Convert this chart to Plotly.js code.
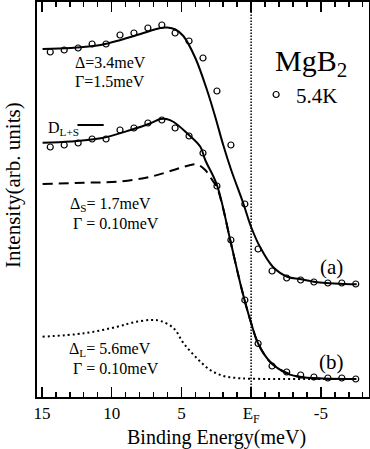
<!DOCTYPE html>
<html>
<head>
<meta charset="utf-8">
<script src="https://cdn.plot.ly/plotly-3.0.1.min.js"></script>
<style>
  html, body { margin: 0; padding: 0; background: #fff; }
  #chart { width: 370px; height: 449px; }
</style>
</head>
<body>
<div id="chart"></div>
<script>
// measured spectra, 5.4K
var energy = [14.4, 13.4, 12.4, 11.4, 10.4, 9.4, 8.4, 7.4, 6.4, 5.45, 4.45, 3.45, 2.45, 1.45, 0.45, -0.5, -1.5, -2.55, -3.55, -4.5, -5.5, -6.5, -7.5];
var dataA = [34.5, 34.7, 34.9, 35.3, 35.3, 36.2, 36.4, 36.9, 37.2, 36.4, 35.6, 33.9, 30.6, 25.2, 19.3, 14.8, 12.6, 11.9, 11.7, 11.5, 11.4, 11.4, 11.3];
var dataB = [25.0, 25.2, 25.4, 25.8, 25.8, 26.7, 26.9, 27.4, 27.7, 26.9, 26.1, 24.4, 21.1, 15.7, 9.7, 5.35, 3.1, 2.5, 2.2, 2.0, 1.9, 1.9, 1.8];

// fit (a): single gap
var fitAx = [14.95, 12.93, 10.79, 9.36, 7.93, 6.5, 6.0, 5.43, 4.86, 4.0, 3.14, 2.57, 2.0, 1.43, 0.57, 0, -0.64, -1.57, -2.64, -3.5, -4.93, -7.57];
var fitAy = [34.8, 34.9, 35.2, 35.7, 36.3, 36.9, 36.95, 36.75, 36.1, 33.9, 30.6, 28.0, 25.2, 22.7, 19.4, 17.0, 15.0, 13.0, 12.0, 11.8, 11.45, 11.27];

// fit (b): D_L+S
var fitBx = [14.95, 12.93, 10.79, 8.64, 7.21, 6.5, 6.07, 5.55, 4.59, 3.64, 3.29, 2.45, 1.45, 0.66, 0, -0.52, -1.36, -2.55, -3.74, -7.55];
var fitBy = [25.43, 25.55, 25.87, 26.7, 27.37, 27.8, 27.8, 27.5, 26.37, 25.03, 23.7, 21.2, 15.4, 10.7, 7.4, 5.3, 3.53, 2.37, 1.97, 1.8];

// small gap component
var gapSx = [14.95, 11.98, 9.59, 7.21, 5.55, 4.48, 3.86, 3.29, 2.79, 2.43, 2.07, 1.45, 0.66, 0, -0.52, -1.36, -2.57, -3.71, -7.57];
var gapSy = [21.3, 21.43, 21.53, 22.03, 22.7, 23.15, 23.25, 22.7, 21.7, 20.9, 19.2, 15.4, 10.7, 7.4, 5.3, 3.5, 2.4, 1.95, 1.8];

// large gap component
var gapLx = [14.95, 11.98, 9.59, 8.41, 7.21, 6.5, 5.55, 4.84, 3.88, 2.93, 1.98, 1.02, 0.07, -2.31, -7.55];
var gapLy = [6.03, 6.37, 7.03, 7.47, 7.7, 7.6, 6.87, 5.37, 3.87, 2.7, 2.1, 1.9, 1.83, 1.8, 1.8];

var tickVals = [15, 10, 5, 0, -5];
var tickText = ['15', '10', '5', 'E<sub>F</sub>', '-5'];

var serif = 'Times New Roman';

var traces = [{
  x: fitAx, y: fitAy, mode: 'lines', line: {color: 'black', width: 2, shape: 'spline'},
  showlegend: false, hoverinfo: 'skip'
}, {
  x: fitBx, y: fitBy, mode: 'lines', line: {color: 'black', width: 2, shape: 'spline'},
  showlegend: false, hoverinfo: 'skip'
}, {
  x: gapSx, y: gapSy, mode: 'lines', line: {color: 'black', width: 2, dash: '10px,6px', shape: 'spline'},
  showlegend: false, hoverinfo: 'skip'
}, {
  x: gapLx, y: gapLy, mode: 'lines', line: {color: 'black', width: 2, dash: '2px,3px', shape: 'spline'},
  showlegend: false, hoverinfo: 'skip'
}, {
  x: energy, y: dataA, mode: 'markers', name: '5.4K',
  marker: {symbol: 'circle-open', size: 6, color: 'black', line: {width: 1.2}}
}, {
  x: energy, y: dataB, mode: 'markers', name: '5.4K',
  marker: {symbol: 'circle-open', size: 6, color: 'black', line: {width: 1.2}},
  showlegend: false
}];

function note(text, x, y, size, anchor) {
  return {text: text, x: x, y: y, xref: 'x', yref: 'y', showarrow: false,
    xanchor: anchor || 'left', yanchor: 'middle', font: {family: serif, size: size, color: 'black'}};
}

var notes = [
  note('Δ=3.4meV', 12.79, 33.5, 16),
  note('Γ=1.5meV', 12.79, 31.6, 16),
  note('D<sub>L+S</sub>', 14.71, 26.9, 16),
  note('Δ<sub>S</sub>= 1.7meV', 13.14, 19.3, 16),
  note('Γ = 0.10meV', 12.93, 17.35, 16),
  note('Δ<sub>L</sub>= 5.6meV', 13.21, 4.8, 16),
  note('Γ = 0.10meV', 12.93, 2.9, 16),
  note('MgB<sub>2</sub>', -1.55, 33.4, 30),
  note('(a)', -5.79, 13.03, 21, 'center'),
  note('(b)', -5.79, 3.53, 21, 'center')
];
// axis titles as notes so they sit where the original has them
notes.push({text: 'Intensity(arb. units)', textangle: -90, xref: 'paper', yref: 'paper',
  x: -0.072, y: 0.537, xanchor: 'center', yanchor: 'middle', showarrow: false,
  font: {family: serif, size: 21, color: 'black'}});
notes.push({text: 'Binding Energy(meV)', xref: 'paper', yref: 'paper',
  x: 0.54, y: -0.102, xanchor: 'center', yanchor: 'middle', showarrow: false,
  font: {family: serif, size: 20, color: 'black'}});

var layout = {
  width: 370, height: 449,
  margin: {l: 37, r: 1, t: 2, b: 52},
  paper_bgcolor: 'white', plot_bgcolor: 'white',
  font: {family: serif, size: 17, color: 'black'},
  showlegend: true,
  legend: {x: 0.66, y: 0.765, xanchor: 'left', yanchor: 'middle', bgcolor: 'rgba(0,0,0,0)',
    font: {family: serif, size: 21}, itemwidth: 30},
  xaxis: {
    range: [15.35, -8.45],
    tickvals: tickVals, ticktext: tickText,
    ticks: 'inside', ticklen: 10, tickwidth: 1.5, tickcolor: 'black',
    minor: {dtick: 1, ticks: 'inside', ticklen: 5, tickwidth: 1.5, tickcolor: 'black'},
    showline: true, linewidth: 2, linecolor: 'black', mirror: 'ticks',
    showgrid: false, zeroline: false,
    tickfont: {family: serif, size: 17, color: 'black'}
  },
  yaxis: {
    range: [0, 39.5],
    showticklabels: false, ticks: '',
    showline: true, linewidth: 2, linecolor: 'black', mirror: true,
    showgrid: false, zeroline: false
  },
  shapes: [{
    type: 'line', xref: 'x', yref: 'paper', x0: 0, x1: 0, y0: 0, y1: 1,
    line: {color: 'black', width: 1.5, dash: '1.5px,1.5px'}
  }, {
    type: 'line', xref: 'x', yref: 'y', x0: 12.45, x1: 10.57, y0: 27.2, y1: 27.2,
    line: {color: 'black', width: 2}
  }],
  annotations: notes
};

Plotly.newPlot('chart', traces, layout, {staticPlot: true});
</script>
</body>
</html>
